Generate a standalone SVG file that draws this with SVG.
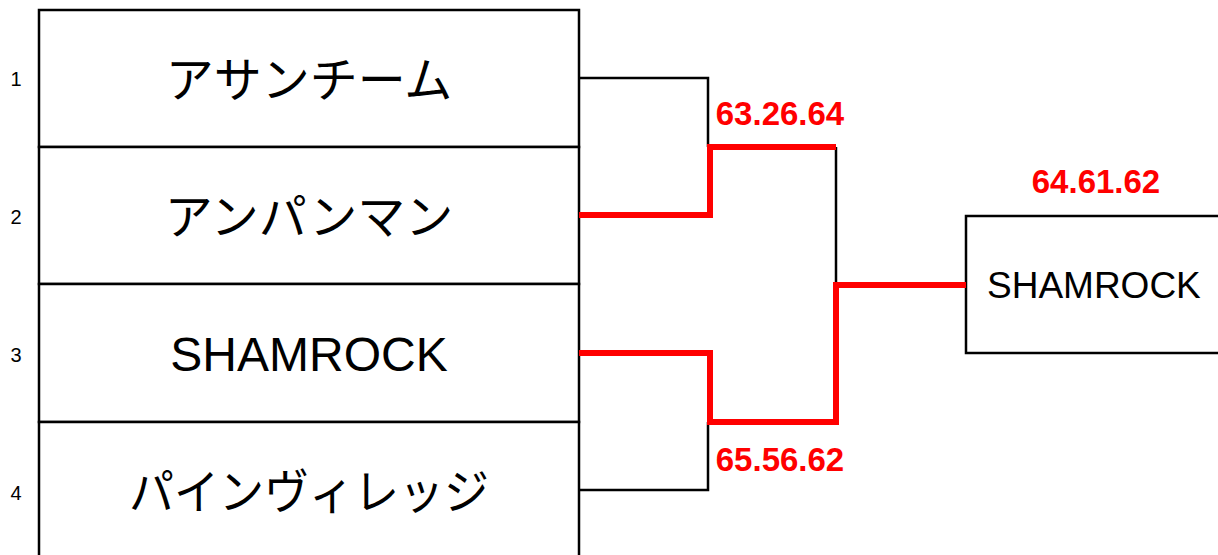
<svg xmlns="http://www.w3.org/2000/svg" width="1218" height="555" viewBox="0 0 1218 555">
<style>
.box{fill:#fff;stroke:#000;stroke-width:2.5}
.num{font-family:"Liberation Sans",Arial,sans-serif;font-size:20px;fill:#000;text-anchor:middle}
.team{font-family:"Liberation Sans","Noto Sans CJK JP",sans-serif;font-size:48px;fill:#000;text-anchor:middle}
.score{font-family:"Liberation Sans",Arial,sans-serif;font-size:33px;font-weight:bold;fill:#ff0000;text-anchor:middle}
.win{font-family:"Liberation Sans",Arial,sans-serif;font-size:37px;fill:#000}
.blk{fill:none;stroke:#000;stroke-width:2.5}
.red{fill:none;stroke:#ff0000;stroke-width:6}
</style>
<rect width="1218" height="555" fill="#fff"/>
<g id="team1">
<rect class="box" x="39" y="10" width="540" height="137"/>
<text class="num" x="16" y="86">1</text>
<text class="team" x="309" y="97">アサンチーム</text>
</g>
<g id="team2">
<rect class="box" x="39" y="147" width="540" height="137"/>
<text class="num" x="16" y="224">2</text>
<text class="team" x="309" y="234">アンパンマン</text>
</g>
<g id="team3">
<rect class="box" x="39" y="284" width="540" height="138"/>
<text class="num" x="16" y="362">3</text>
<text class="team" x="309" y="371">SHAMROCK</text>
</g>
<g id="team4">
<rect class="box" x="39" y="422" width="540" height="150"/>
<text class="num" x="16" y="500">4</text>
<text class="team" x="309" y="509" textLength="360" lengthAdjust="spacingAndGlyphs">パインヴィレッジ</text>
</g>
<g id="winner">
<rect class="box" x="966" y="216" width="270" height="137"/>
<text class="win" x="987" y="298">SHAMROCK</text>
</g>
<g id="connectors">
<polyline class="blk" points="579,78 708,78 708,147"/>
<polyline class="blk" points="836,147 836,285"/>
<polyline class="blk" points="579,490 708,490 708,422"/>
<polyline class="red" points="579,215 710,215 710,147 836,147"/>
<polyline class="red" points="579,353 710,353 710,422 836,422 836,285 966,285"/>
</g>
<g id="scores">
<text class="score" x="780" y="125">63.26.64</text>
<text class="score" x="780" y="471">65.56.62</text>
<text class="score" x="1096" y="193">64.61.62</text>
</g>
</svg>
